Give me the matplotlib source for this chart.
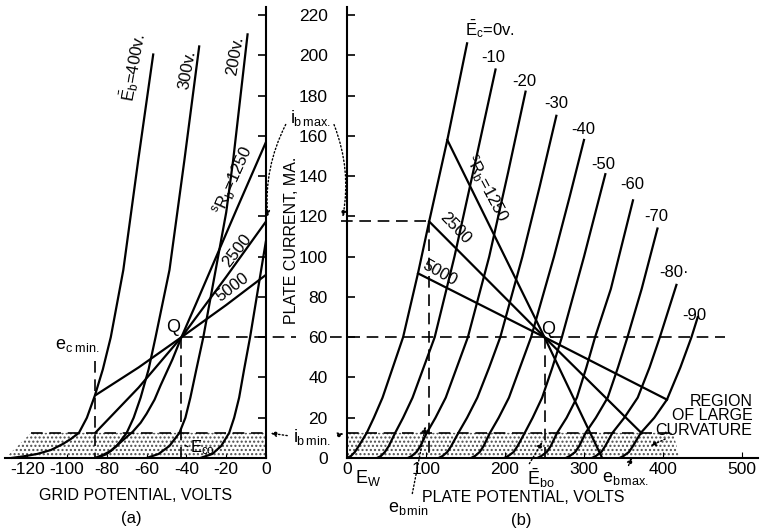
import matplotlib
matplotlib.use('Agg')
import matplotlib.pyplot as plt

plt.rcParams['font.family'] = ['Liberation Sans', 'DejaVu Sans']
plt.rcParams['mathtext.fontset'] = 'custom'
plt.rcParams['mathtext.rm'] = 'Liberation Sans'
plt.rcParams['mathtext.it'] = 'Liberation Sans'
plt.rcParams['mathtext.bf'] = 'Liberation Sans'

# ---- (b) plate characteristics, one curve per grid voltage (plate volts, plate mA)
ec0_v = [0, 5, 10, 15, 25, 34, 45, 58, 71, 90, 104, 127, 152]
ec0_i = [0, 1, 3, 6, 12.5, 20, 30, 45, 60, 92, 117.5, 158, 206]
ec10_v = [38, 43, 48, 53, 61, 71, 83, 97, 111, 136, 163, 188]
ec10_i = [0, 1, 3, 6, 12.5, 20, 30, 45, 60, 100, 148, 193]
ec20_v = [77, 82, 88, 93, 101, 112, 125, 139, 153, 180, 204, 226]
ec20_i = [0, 1, 3, 6, 12.5, 20, 30, 45, 60, 100, 142, 182]
ec30_v = [116, 121, 127, 132, 141, 152, 165, 180, 194, 222, 244, 265]
ec30_i = [0, 1, 3, 6, 12.5, 20, 30, 45, 60, 100, 135, 170]
ec40_v = [157, 162, 168, 173, 181, 192, 205, 219, 233, 262, 282, 300]
ec40_i = [0, 1, 3, 6, 12.5, 20, 30, 45, 60, 100, 130, 158]
ec50_v = [199, 204, 211, 216, 225, 235, 247, 260, 272, 300, 327]
ec50_i = [0, 1, 3, 6, 12.5, 20, 30, 45, 60, 100, 141]
ec60_v = [241, 246, 253, 258, 266, 278, 291, 303, 314, 334, 362]
ec60_i = [0, 1, 3, 6, 12.5, 20, 30, 45, 60, 84, 128]
ec70_v = [277, 282, 289, 294, 302, 315, 330, 343, 355, 373, 393]
ec70_i = [0, 1, 3, 6, 12.5, 20, 30, 45, 60, 84, 114]
ec80_v = [310, 315, 322, 327, 336, 351, 368, 383, 396, 417]
ec80_i = [0, 1, 3, 6, 12.5, 20, 30, 45, 60, 86]
ec90_v = [345, 350, 357, 362, 372, 389, 405, 422, 436, 444]
ec90_i = [0, 1, 3, 6, 12.5, 20, 29, 45, 60, 70]
grid_labels = ['$\\bar{E}_c$=0v.', '-10', '-20', '-30', '-40', '-50', '-60', '-70', '-80\u00b7', '-90']
grid_label_v = [181, 185, 225, 265, 299, 325, 361, 392, 414, 440]
grid_label_i = [213, 199, 187, 176, 163, 146, 136, 120, 92, 71]

# load lines in (b)
ll1250_v = [127, 250, 323]
ll1250_i = [158, 60, 0]
ll2500_v = [104, 250, 373]
ll2500_i = [117.5, 60, 12.3]
ll5000_v = [90, 250, 405]
ll5000_i = [91.7, 60, 29]

# ---- (a) transfer characteristics (grid volts, plate mA)
eb400_v = [-128, -122, -115, -108, -102, -98, -94, -90, -86, -82, -78, -71.7, -64.2, -56.6]
eb400_i = [0, 0.8, 2, 4, 7, 9.5, 12.5, 20, 31, 44, 60, 93.4, 148, 201]
eb300_v = [-85, -80, -75, -70, -66.5, -63, -59, -55.5, -48.5, -41, -33.5]
eb300_i = [0, 2, 6, 12.5, 20, 30, 44, 60, 93.4, 148, 205]
eb200_v = [-60, -54, -48.5, -43.5, -40.5, -38, -35, -31.5, -25, -20, -16.5, -9.2]
eb200_i = [0, 2, 6, 12.5, 20, 30, 44, 60, 95, 122, 148, 211]
eb100_v = [-33, -27, -22.5, -18.5, -16, -13.5, -11, -8, -3, 0]
eb100_i = [0, 2, 6, 12.5, 20, 30, 44, 60, 90, 108]

# dynamic curves in (a)
dyn1250_v = [-86, -82, -78, -74, -70, -67, -63, -60, -56, -53, -47, -42.5, -35, -25, -15, 0]
dyn1250_i = [0, 1.5, 3.5, 7, 10.5, 13, 17.5, 22, 29, 36, 49, 60, 77, 100, 123, 157]
dyn2500_v = [-86, -64, -42.5, -20, 0]
dyn2500_i = [12.3, 35, 60, 90, 117.5]
dyn5000_v = [-86, -64, -42.5, -20, 0]
dyn5000_i = [31, 45, 60, 76, 91]

# operating values
q_ec, q_eb, q_ib = -42.5, 250, 60
ib_max, ib_min = 117.5, 12.5
ec_min, eb_min, eb_max = -86, 104, 373

fig = plt.figure(figsize=(7.63, 5.32), dpi=100)
axA = fig.add_axes([5.3 / 763, 74 / 532, 260.7 / 763, 450.9 / 532])
axB = fig.add_axes([347 / 763, 74 / 532, 410.8 / 763, 450.9 / 532])

lw = 1.6
dash = (0, (7, 4))
fs = 12
dotted_arrow = dict(arrowstyle='-|>', ls=':', lw=1, color='k', mutation_scale=8)

# ---------- panel (a)
axA.set_xlim(-131, 0)
axA.set_ylim(0, 224)
for s in ['top', 'left']:
    axA.spines[s].set_visible(False)
axA.spines['right'].set_linewidth(1.5)
axA.spines['bottom'].set_linewidth(1.5)
axA.yaxis.tick_right()
axA.set_yticks(range(0, 221, 20))
axA.tick_params(axis='y', direction='in', length=6, width=1.2, labelright=False)
axA.set_xticks(range(-120, 1, 20))
axA.set_xticklabels(['-120', '-100', '-80', '-60', '-40', '-20', '0'])
axA.tick_params(axis='x', direction='in', length=3, labelsize=fs + 0.5, pad=3)

axA.fill([-131, -118, 0, 0], [0, ib_min, ib_min, 0], facecolor='white',
         edgecolor='0.3', hatch='....', linewidth=0)
for v, i in [(eb400_v, eb400_i), (eb300_v, eb300_i), (eb200_v, eb200_i),
             (eb100_v, eb100_i), (dyn1250_v, dyn1250_i),
             (dyn2500_v, dyn2500_i), (dyn5000_v, dyn5000_i)]:
    axA.plot(v, i, color='k', lw=lw, solid_capstyle='butt', clip_on=False)

axA.plot([-118, 0], [ib_min, ib_min], 'k', lw=1.2, ls=dash)
axA.plot([q_ec, 15], [q_ib, q_ib], 'k', lw=1.2, ls=dash, clip_on=False)
axA.plot([q_ec, q_ec], [q_ib, 0], 'k', lw=1.2, ls=dash)
axA.plot([ec_min, ec_min], [48, 0], 'k', lw=1.2, ls=dash)

axA.text(-66.5, 194, '$\\bar{E}_b$=400v.', rotation=80, fontsize=fs, ha='center', va='center')
axA.text(-39.5, 193, '300v.', rotation=80, fontsize=fs, ha='center', va='center')
axA.text(-15.5, 200, '200v.', rotation=80, fontsize=fs, ha='center', va='center')
axA.text(-16.5, 138, '$^sR_b$=1250', rotation=66, fontsize=fs, ha='center', va='center')
axA.text(-14.5, 103, '2500', rotation=52, fontsize=fs, ha='center', va='center')
axA.text(-17, 85, '5000', rotation=37, fontsize=fs, ha='center', va='center')
axA.text(-46.5, 65, 'Q', fontsize=fs + 1, ha='center', va='center')
axA.text(-95, 56, '$e_{c\\ min.}$', fontsize=fs + 1, ha='center', va='center')
axA.text(-32, 5, '$E_{co}$', fontsize=fs, ha='center', va='center')
axA.annotate('', xy=(q_ec + 0.5, 7), xytext=(-38, 5),
             arrowprops=dict(arrowstyle='-', lw=0.9, color='k'))

# ---------- panel (b)
axB.set_xlim(0, 520)
axB.set_ylim(0, 224)
for s in ['top', 'right']:
    axB.spines[s].set_visible(False)
axB.spines['left'].set_linewidth(1.5)
axB.spines['bottom'].set_linewidth(1.5)
axB.set_yticks(range(0, 221, 20))
axB.tick_params(axis='y', direction='in', length=6, width=1.2, labelsize=fs + 0.5, pad=14)
axB.set_xticks(range(0, 501, 100))
axB.tick_params(axis='x', direction='in', length=4, labelsize=fs + 0.5, pad=3)

axB.fill([0, 0, 413, 421], [0, ib_min, ib_min, 0], facecolor='white',
         edgecolor='0.3', hatch='....', linewidth=0)
plate_curves = [(ec0_v, ec0_i), (ec10_v, ec10_i), (ec20_v, ec20_i), (ec30_v, ec30_i),
                (ec40_v, ec40_i), (ec50_v, ec50_i), (ec60_v, ec60_i), (ec70_v, ec70_i),
                (ec80_v, ec80_i), (ec90_v, ec90_i)]
for v, i in plate_curves:
    axB.plot(v, i, color='k', lw=lw)
for v, i in [(ll1250_v, ll1250_i), (ll2500_v, ll2500_i), (ll5000_v, ll5000_i)]:
    axB.plot(v, i, color='k', lw=lw)
for lab, v, i in zip(grid_labels, grid_label_v, grid_label_i):
    axB.text(v, i, lab, fontsize=fs, ha='center', va='center')

axB.plot([0, 413], [ib_min, ib_min], 'k', lw=1.2, ls=dash)
axB.plot([-22, 478], [q_ib, q_ib], 'k', lw=1.2, ls=dash, clip_on=False)
axB.plot([q_eb, q_eb], [q_ib, 0], 'k', lw=1.2, ls=dash)
axB.plot([-7, eb_min], [ib_max, ib_max], 'k', lw=1.2, ls=dash, clip_on=False)
axB.plot([eb_min, eb_min], [ib_max, 0], 'k', lw=1.2, ls=dash)

axB.text(177, 134, '$^sR_b$=1250', rotation=-62, fontsize=fs, ha='center', va='center')
axB.text(137, 114, '2500', rotation=-46, fontsize=fs, ha='center', va='center')
axB.text(118, 92, '5000', rotation=-29, fontsize=fs, ha='center', va='center')
axB.text(254, 64, 'Q', fontsize=fs + 1, ha='center', va='center')
axB.text(513, 21, 'REGION\nOF LARGE\nCURVATURE', fontsize=fs - 0.5, ha='right',
         va='center', linespacing=0.95)
axB.annotate('', xy=(381, 5.5), xytext=(406, 10), arrowprops=dotted_arrow)
axB.text(27, -10, '$E_W$', fontsize=fs + 1, ha='center', va='center')
axB.text(245, -10, '$\\bar{E}_{bo}$', fontsize=fs + 1, ha='center', va='center')
axB.text(352, -10, '$e_{b\\,max.}$', fontsize=fs + 1, ha='center', va='center')
axB.text(77, -25, '$e_{b\\,min}$', fontsize=fs + 1, ha='center', va='center')
axB.annotate('', xy=(eb_min - 4, 17), xytext=(82, -19), arrowprops=dotted_arrow)
axB.annotate('', xy=(q_eb - 1, 9), xytext=(229, -4), arrowprops=dotted_arrow)
axB.annotate('', xy=(362, 1.5), xytext=(355, -5), arrowprops=dotted_arrow)

# ---------- between the panels
fig.text(291 / 763, 1 - 240 / 532, 'PLATE CURRENT, MA.', rotation=90, fontsize=fs - 0.5,
         ha='center', va='center')
fig.text(310 / 763, 1 - 118 / 532, '$i_{b\\,max.}$', fontsize=fs + 1, ha='center', va='center')
fig.text(312 / 763, 1 - 437 / 532, '$i_{b\\,min.}$', fontsize=fs + 1, ha='center', va='center')
axA.annotate('', xy=(1, ib_max + 1), xytext=(287, 532 - 122), textcoords='figure pixels',
             arrowprops=dict(dotted_arrow, connectionstyle='arc3,rad=0.15'),
             annotation_clip=False)
axB.annotate('', xy=(-6, ib_max + 1), xytext=(333, 532 - 122), textcoords='figure pixels',
             arrowprops=dict(dotted_arrow, connectionstyle='arc3,rad=-0.15'),
             annotation_clip=False)
axA.annotate('', xy=(1, ib_min), xytext=(290, 532 - 436), textcoords='figure pixels',
             arrowprops=dotted_arrow, annotation_clip=False)
axB.annotate('', xy=(-1, ib_min), xytext=(335, 532 - 436), textcoords='figure pixels',
             arrowprops=dotted_arrow, annotation_clip=False)

fig.text(136 / 763, 1 - 496 / 532, 'GRID POTENTIAL, VOLTS', fontsize=fs - 0.5,
         ha='center', va='center')
fig.text(131 / 763, 1 - 519 / 532, '(a)', fontsize=fs, ha='center', va='center')
fig.text(523 / 763, 1 - 497 / 532, 'PLATE POTENTIAL, VOLTS', fontsize=fs - 0.5,
         ha='center', va='center')
fig.text(521 / 763, 1 - 520 / 532, '(b)', fontsize=fs, ha='center', va='center')

fig.savefig('out.png', dpi=100)
